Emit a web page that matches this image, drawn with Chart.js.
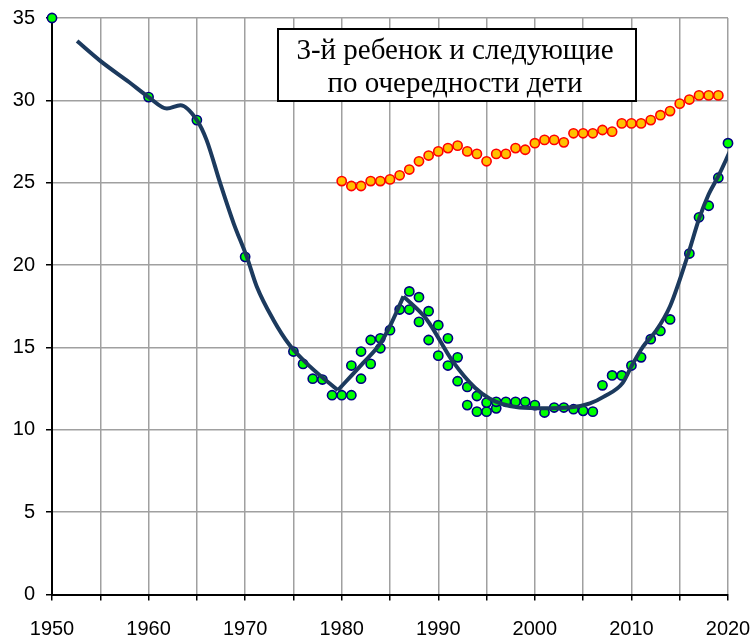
<!DOCTYPE html>
<html>
<head>
<meta charset="utf-8">
<script src="https://cdn.jsdelivr.net/npm/chart.js@4.4.1/dist/chart.umd.min.js"></script>
<style>
  html, body { margin: 0; padding: 0; background: #fff; }
  #wrap { width: 754px; height: 639px; position: relative; }
</style>
</head>
<body>
<div id="wrap"><canvas id="myChart"></canvas></div>
<script>
// measured points (green), main series
const greenYears = [1950, 1960, 1965, 1970, 1975, 1976, 1977, 1978, 1979, 1980, 1981, 1982, 1983, 1984, 1985, 1986, 1987, 1988, 1989, 1990,
  1991, 1992, 1993, 1994, 1995, 1996, 1997, 1998, 1999, 2000, 2001, 2002, 2003, 2004, 2005, 2006, 2007, 2008, 2009, 2010,
  2011, 2012, 2013, 2014, 2016, 2017, 2018, 2019, 2020];
const greenValues = [35.0, 30.2, 28.8, 20.5, 14.75, 14.0, 13.1, 13.05, 12.1, 12.1, 12.1, 13.1, 14.0, 14.95, 16.05, 17.3, 18.4, 18.05, 17.2, 16.35,
  15.55, 14.4, 12.6, 12.05, 11.65, 11.7, 11.7, 11.7, 11.7, 11.5, 11.05, 11.35, 11.35, 11.25, 11.15, 11.1, 12.7, 13.3, 13.3, 13.9,
  14.4, 15.5, 16.0, 16.7, 20.7, 22.9, 23.6, 25.3, 27.4];

// second set of green points (other source)
const greenYears2 = [1981, 1982, 1983, 1984, 1987, 1988, 1989, 1990, 1991, 1992, 1993, 1994, 1995, 1996];
const greenValues2 = [13.9, 14.75, 15.45, 15.55, 17.3, 16.55, 15.45, 14.5, 13.9, 12.95, 11.5, 11.1, 11.1, 11.3];

// orange points
const orangeYears = [1980, 1981, 1982, 1983, 1984, 1985, 1986, 1987, 1988, 1989, 1990, 1991, 1992, 1993, 1994, 1995, 1996, 1997, 1998, 1999,
  2000, 2001, 2002, 2003, 2004, 2005, 2006, 2007, 2008, 2009, 2010, 2011, 2012, 2013, 2014, 2015, 2016, 2017, 2018, 2019];
const orangeValues = [25.1, 24.8, 24.8, 25.1, 25.1, 25.2, 25.45, 25.8, 26.3, 26.65, 26.9, 27.1, 27.25, 26.9, 26.75, 26.3, 26.75, 26.75, 27.1, 27.0,
  27.4, 27.6, 27.6, 27.45, 28.0, 28.0, 28.0, 28.2, 28.1, 28.6, 28.6, 28.6, 28.8, 29.1, 29.35, 29.8, 30.05, 30.3, 30.3, 30.3];

// smoothed trend, three pieces (sharp turns at 1979 and 1986)
const trendYears1 = [1952.6, 1955, 1958, 1960, 1961.9, 1963.3, 1965, 1966, 1967.4, 1968.8, 1970.2, 1971.2, 1972.9, 1974.6, 1976.7, 1979.6];
const trendValues1 = [33.6, 32.4, 31.1, 30.2, 29.5, 29.7, 28.8, 27.6, 25.0, 22.55, 20.45, 18.7, 16.7, 15.15, 13.85, 12.4];
const trendYears2 = [1979.6, 1982.2, 1984, 1985, 1986.4];
const trendValues2 = [12.4, 14.05, 15.25, 16.3, 18.1];
const trendYears3 = [1986.4, 1988.8, 1991.5, 1993.8, 1995.3, 1996.7, 1998.4, 2001, 2003.6, 2005.7, 2007.1, 2009.1, 2010.0, 2011.2,
  2012.6, 2014.0, 2015.0, 2016.0, 2017.0, 2018.0, 2019.0, 2020.2];
const trendValues3 = [18.1, 16.7, 14.15, 12.55, 11.9, 11.55, 11.35, 11.3, 11.35, 11.6, 12.0, 12.85, 13.85, 15.05,
  16.05, 17.5, 19.1, 20.9, 22.8, 24.3, 25.4, 26.9];

const titleLines = ['3-й ребенок и следующие', 'по очередности дети'];

const toPoints = (xs, ys) => xs.map((x, i) => ({x: x, y: ys[i]}));

const lineColor = '#1c3a5e';

function trendSet(xs, ys) {
	return {
		type: 'line',
		data: toPoints(xs, ys),
		borderColor: lineColor,
		borderWidth: 4,
		pointRadius: 0,
		cubicInterpolationMode: 'monotone',
		showLine: true,
		fill: false,
		order: 0,
	};
}

function dotSet(xs, ys, fill, stroke) {
	return {
		type: 'scatter',
		data: toPoints(xs, ys),
		backgroundColor: fill,
		borderColor: stroke,
		borderWidth: 1.6,
		pointRadius: 4.6,
		showLine: false,
		clip: false,
		order: 1,
	};
}

// text box in the upper part of the plot
const titleBox = {
	id: 'titleBox',
	afterDraw(c) {
		const ctx = c.ctx;
		const area = c.chartArea;
		const x = area.left + 226, y = area.top + 11, w = 358, h = 72;
		ctx.save();
		ctx.fillStyle = '#fff';
		ctx.fillRect(x, y, w, h);
		ctx.lineWidth = 2;
		ctx.strokeStyle = '#000';
		ctx.strokeRect(x, y, w, h);
		ctx.fillStyle = '#000';
		ctx.font = '29px "Liberation Serif", "Times New Roman", serif';
		ctx.textAlign = 'center';
		ctx.textBaseline = 'alphabetic';
		ctx.fillText(titleLines[0], x + w / 2 - 2, y + 30);
		ctx.fillText(titleLines[1], x + w / 2 - 2, y + 62.5);
		ctx.restore();
	}
};

function setupChart() {
	Chart.defaults.font.family = '"Liberation Sans", Arial, sans-serif';
	Chart.defaults.font.size = 20;
	Chart.defaults.color = '#000';

	const ctx = document.getElementById('myChart').getContext('2d');

	chart = new Chart(ctx, {
		type: 'scatter',
		data: {
			datasets: [
				trendSet(trendYears1, trendValues1),
				trendSet(trendYears2, trendValues2),
				trendSet(trendYears3, trendValues3),
				dotSet(greenYears, greenValues, '#00ff00', '#000080'),
				dotSet(greenYears2, greenValues2, '#00ff00', '#000080'),
				dotSet(orangeYears, orangeValues, '#ffc000', '#ff0000'),
			]
		},
		options: {
			responsive: true,
			maintainAspectRatio: false,
			animation: false,
			layout: { padding: { top: 18, right: 26, left: 0, bottom: 0 } },
			plugins: {
				legend: { display: false },
				tooltip: { enabled: false },
			},
			scales: {
				x: {
					type: 'linear',
					min: 1950,
					max: 2020,
					afterFit: (s) => {
						s.height = 44.5;
						s.paddingLeft = 0;
						s.paddingRight = 0;
					},
					ticks: {
						stepSize: 5,
						autoSkip: false,
						maxRotation: 0,
						padding: 17,
						callback: (v) => (v % 10 === 0 ? String(v) : ''),
					},
					grid: { color: '#a0a0a0', lineWidth: 1.5, tickColor: '#000', tickLength: 6 },
					border: { color: '#000', width: 2 },
				},
				y: {
					min: 0,
					max: 35,
					afterFit: (s) => {
						s.width = 52;
						s.paddingTop = 0;
						s.paddingBottom = 0;
					},
					ticks: { stepSize: 5, padding: 11, callback: (v) => String(v) },
					grid: { color: '#a0a0a0', lineWidth: 1.5, tickColor: '#000', tickLength: 6 },
					border: { color: '#000', width: 2 },
				},
			},
		},
		plugins: [titleBox],
	});
}

let chart;
setupChart();
</script>
</body>
</html>
